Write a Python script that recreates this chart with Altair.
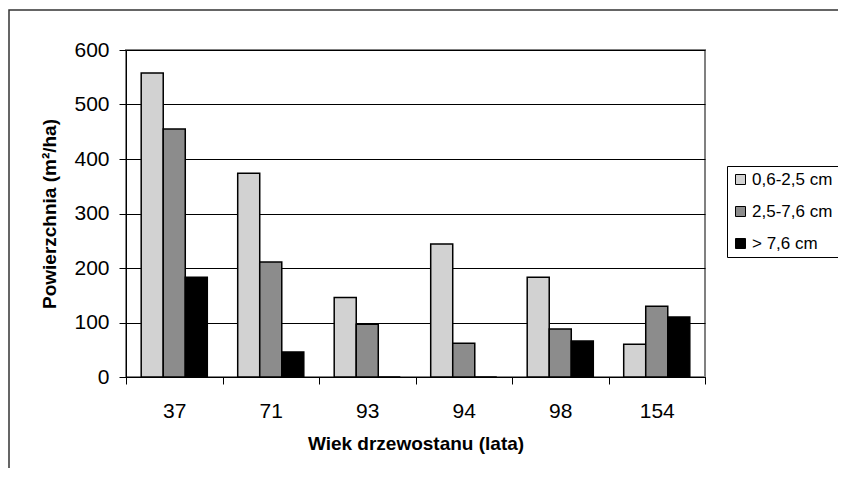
import altair as alt
import pandas as pd

ages = ["37", "71", "93", "94", "98", "154"]
series = ["0,6-2,5 cm", "2,5-7,6 cm", "> 7,6 cm"]
fine = [558, 374, 146, 244, 183, 60]
medium = [455, 211, 97, 62, 88, 130]
coarse = [183, 46, 0, 0, 66, 110]
colors = ["#d2d2d2", "#8c8c8c", "#000000"]
y_ticks = [0, 100, 200, 300, 400, 500, 600]

rows = []
for i, a in enumerate(ages):
    for s, vals in zip(series, [fine, medium, coarse]):
        rows.append({"age": a, "series": s, "value": vals[i]})
df = pd.DataFrame(rows)

FONT = "Liberation Sans"

frame = alt.Chart(alt.Data(values=[{"f": 1}])).mark_rect(
    fill="white", fillOpacity=0, stroke="#333333", strokeWidth=1.5
).encode(
    x=alt.value(-117), x2=alt.value(900), y=alt.value(-40), y2=alt.value(600)
)

bars = alt.Chart(df).mark_bar(stroke="black", strokeWidth=1.5).encode(
    x=alt.X(
        "age:N",
        sort=ages,
        scale=alt.Scale(paddingInner=0, paddingOuter=0),
        axis=alt.Axis(
            title="Wiek drzewostanu (lata)",
            labelAngle=0,
            tickBand="extent",
            tickSize=7,
            tickColor="black",
            domainColor="black",
            labelColor="black",
            labelFontSize=21,
            labelPadding=16,
            labelFont=FONT,
            titleFont=FONT,
            titleFontSize=19,
            titleFontWeight="bold",
            titleColor="black",
            titleBaseline="top",
            titleY=57,
        ),
    ),
    xOffset=alt.XOffset(
        "series:N", sort=series, scale=alt.Scale(paddingInner=0, paddingOuter=0.69)
    ),
    y=alt.Y(
        "value:Q",
        scale=alt.Scale(domain=[0, 600], nice=False),
        axis=alt.Axis(
            title="Powierzchnia (m²/ha)",
            values=y_ticks,
            grid=True,
            gridColor="black",
            gridWidth=1,
            tickSize=7,
            tickColor="black",
            domainColor="black",
            labelColor="black",
            labelFontSize=21,
            labelPadding=10,
            labelFont=FONT,
            titleFont=FONT,
            titleFontSize=19,
            titleFontWeight="bold",
            titleColor="black",
            titleX=-77,
            titleBaseline="middle",
        ),
    ),
    color=alt.Color(
        "series:N",
        sort=series,
        scale=alt.Scale(domain=series, range=colors),
        title=None,
        legend=alt.Legend(
            orient="none",
            legendX=601,
            legendY=116,
            padding=5,
            strokeColor="black",
            fillColor="white",
            symbolType="square",
            symbolSize=100,
            symbolStrokeColor="black",
            symbolStrokeWidth=1,
            labelFontSize=17,
            labelFont=FONT,
            labelColor="black",
            labelOffset=3,
            rowPadding=14,
        ),
    ),
)

chart = alt.layer(frame, bars).properties(
    width=579,
    height=327,
    padding={"left": 118, "top": 42, "right": 133, "bottom": 91},
    autosize=alt.AutoSizeParams(type="none"),
    background="white",
).configure_view(
    stroke="#808080", strokeWidth=2
).configure_axis(
    domainWidth=1, tickWidth=1
)

chart.save("out.html", embed_options={"renderer": "svg", "actions": False})
